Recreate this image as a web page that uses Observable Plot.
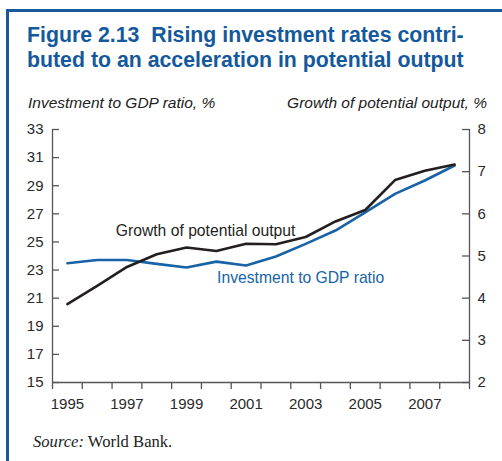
<!DOCTYPE html>
<html>
<head>
<meta charset="utf-8">
<script src="https://cdn.jsdelivr.net/npm/d3@7"></script>
<script src="https://cdn.jsdelivr.net/npm/@observablehq/plot@0.6"></script>
<style>
  html, body { margin: 0; padding: 0; background: #fff; }
  body { position: relative; width: 502px; height: 461px; overflow: hidden; font-family: "Liberation Sans", Arial, sans-serif; }
  .bar { position: absolute; background: #1a5a96; }
  #title { position: absolute; left: 27px; top: 23px; font-size: 21.3px; line-height: 25px; font-weight: bold; color: #14599c; white-space: nowrap; }
  .atitle { position: absolute; top: 95px; font-size: 15.5px; line-height: 1; font-style: italic; color: #222; white-space: nowrap; }
  #chart { position: absolute; left: 0; top: 119px; }
  #source { position: absolute; left: 33px; top: 434px; font-family: "Liberation Serif", "Times New Roman", serif; font-size: 16.6px; line-height: 1; color: #222; }
</style>
</head>
<body>
<div class="bar" style="left:6px;top:9px;width:3px;height:452px"></div>
<div class="bar" style="left:6px;top:9px;width:496px;height:3px"></div>
<div id="title">Figure 2.13&nbsp; Rising investment rates contri-<br>buted to an acceleration in potential output</div>
<div class="atitle" style="left:28px">Investment to GDP ratio, %</div>
<div class="atitle" style="right:15px">Growth of potential output, %</div>
<div id="chart"></div>
<div id="source"><i>Source:</i> World Bank.</div>
<script>
const years = [1995, 1996, 1997, 1998, 1999, 2000, 2001, 2002, 2003, 2004, 2005, 2006, 2007, 2008];
const investment = [23.48, 23.72, 23.72, 23.44, 23.18, 23.6, 23.32, 23.96, 24.86, 25.81, 27.11, 28.42, 29.37, 30.44];
const growth = [3.86, 4.29, 4.74, 5.04, 5.20, 5.12, 5.29, 5.28, 5.45, 5.82, 6.09, 6.80, 7.02, 7.17];
const leftTicks = [15, 17, 19, 21, 23, 25, 27, 29, 31, 33];
const rightTicks = [2, 3, 4, 5, 6, 7, 8];
const xLabelYears = [1995, 1997, 1999, 2001, 2003, 2005, 2007];
const lineLabels = [
  {text: "Growth of potential output", year: 1999.64, value: 25.75, color: "#231f20"},
  {text: "Investment to GDP ratio", year: 2002.83, value: 22.45, color: "#1763a6"}
];

// growth (right axis, 2..8) shares the left scale (15..33)
const toLeft = g => 15 + (g - 2) * 3;
const fromLeft = v => (v - 15) / 3 + 2;

const invData = years.map((y, i) => ({year: y, value: investment[i]}));
const growData = years.map((y, i) => ({year: y, value: toLeft(growth[i])}));
const bandEdges = d3.range(years[0] - 0.5, years[years.length - 1] + 1, 1);

const axisColor = "#555";
const chart = Plot.plot({
  width: 502,
  height: 303,
  marginLeft: 52,
  marginRight: 33,
  marginTop: 10,
  marginBottom: 40,
  x: {domain: [years[0] - 0.5, years[years.length - 1] + 0.5]},
  y: {domain: [15, 33]},
  style: {fontFamily: "Liberation Sans, Arial, sans-serif", fontSize: "15px", color: "#2a2a2a", background: "transparent"},
  marks: [
    Plot.ruleX([years[0] - 0.5, years[years.length - 1] + 0.5], {stroke: axisColor, strokeWidth: 1.3}),
    Plot.ruleY([15], {stroke: axisColor, strokeWidth: 1.3}),
    // left ticks (inward)
    Plot.axisY({anchor: "left", ticks: leftTicks, tickSize: 7, dx: 7, tickFormat: () => "", stroke: axisColor, strokeWidth: 1.3, label: null}),
    Plot.axisY({anchor: "left", ticks: leftTicks, tickSize: 0, tickPadding: 9, label: null}),
    // right ticks (inward)
    Plot.axisY({anchor: "right", ticks: rightTicks.map(toLeft), tickSize: 8, dx: -8, tickFormat: () => "", stroke: axisColor, strokeWidth: 1.3, label: null}),
    Plot.axisY({anchor: "right", ticks: rightTicks.map(toLeft), tickSize: 0, tickPadding: 8, tickFormat: d => String(Math.round(fromLeft(d))), label: null}),
    // bottom ticks at band edges, labels at odd years
    Plot.axisX({ticks: bandEdges, tickSize: 7, tickFormat: () => "", stroke: axisColor, strokeWidth: 1.3, label: null}),
    Plot.axisX({ticks: xLabelYears, tickSize: 0, tickPadding: 16, tickFormat: d => String(d), label: null}),
    Plot.line(invData, {x: "year", y: "value", stroke: "#1763a6", strokeWidth: 2.6}),
    Plot.line(growData, {x: "year", y: "value", stroke: "#231f20", strokeWidth: 2.6}),
    Plot.text(lineLabels, {x: "year", y: "value", text: "text", fill: "color", fontSize: 15.7})
  ]
});
document.getElementById("chart").appendChild(chart);
</script>
</body>
</html>
